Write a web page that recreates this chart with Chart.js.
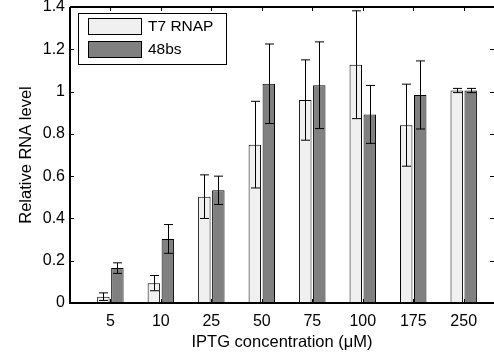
<!DOCTYPE html>
<html>
<head>
<meta charset="utf-8">
<script src="https://cdn.jsdelivr.net/npm/chart.js@4/dist/chart.umd.min.js"></script>
<style>
  html, body { margin: 0; padding: 0; background: #fff; }
</style>
</head>
<body>
<canvas id="myChart" width="494" height="353"></canvas>
<script>
'use strict';

//data
var concentrations = ['5', '10', '25', '50', '75', '100', '175', '250'];
var t7Values = [0.03, 0.094, 0.503, 0.749, 0.96, 1.127, 0.841, 1.005];
var t7Errors = [0.018, 0.036, 0.103, 0.205, 0.19, 0.255, 0.194, 0.01];
var bsValues = [0.165, 0.303, 0.533, 1.037, 1.03, 0.892, 0.984, 1.005];
var bsErrors = [0.025, 0.068, 0.067, 0.188, 0.205, 0.137, 0.161, 0.01];
var yTicks = [0, 0.2, 0.4, 0.6, 0.8, 1, 1.2, 1.4];
var seriesNames = ['T7 RNAP', '48bs'];

//style
var fontFamily = '"Liberation Sans", Arial, sans-serif';
var fillColors = ['#f0f0f0', '#808080'];
var errors = [t7Errors, bsErrors];
var xPositions = concentrations.map(function (c, i) { return i + 1; });

function toPoints(values) {
  return values.map(function (v, i) {
    return { x: xPositions[i], y: v };
  });
}

//error bars, axis box, inward ticks and legend (matlab look)
var matlabPlugin = {
  id: 'matlabLook',
  afterDatasetsDraw: function (chart) {
    var ctx = chart.ctx;
    var yScale = chart.scales.y;
    ctx.save();
    ctx.strokeStyle = '#000';
    ctx.lineWidth = 1;
    chart.data.datasets.forEach(function (ds, d) {
      var meta = chart.getDatasetMeta(d);
      meta.data.forEach(function (bar, i) {
        var x = Math.round(bar.x) + 0.5;
        var top = yScale.getPixelForValue(ds.data[i].y + errors[d][i]);
        var bottom = yScale.getPixelForValue(ds.data[i].y - errors[d][i]);
        ctx.beginPath();
        ctx.moveTo(x, top);
        ctx.lineTo(x, bottom);
        ctx.moveTo(x - 4.5, top);
        ctx.lineTo(x + 4.5, top);
        ctx.moveTo(x - 4.5, bottom);
        ctx.lineTo(x + 4.5, bottom);
        ctx.stroke();
      });
    });
    ctx.restore();
  },
  afterDraw: function (chart) {
    var ctx = chart.ctx;
    var area = chart.chartArea;
    var xScale = chart.scales.x;
    var yScale = chart.scales.y;
    ctx.save();
    ctx.strokeStyle = '#000';
    ctx.lineWidth = 1;
    ctx.beginPath();
    yTicks.forEach(function (v) {
      var y = Math.round(yScale.getPixelForValue(v)) + 0.5;
      ctx.moveTo(area.left, y);
      ctx.lineTo(area.left + 4, y);
      ctx.moveTo(area.right, y);
      ctx.lineTo(area.right - 4, y);
    });
    xPositions.forEach(function (v) {
      var x = Math.round(xScale.getPixelForValue(v)) + 0.5;
      ctx.moveTo(x, area.top);
      ctx.lineTo(x, area.top + 4);
      ctx.moveTo(x, area.bottom);
      ctx.lineTo(x, area.bottom - 4);
    });
    ctx.stroke();

    // box lines
    ctx.lineWidth = 2;
    ctx.beginPath();
    ctx.moveTo(area.left, area.top);
    ctx.lineTo(area.right, area.top);
    ctx.moveTo(area.left, area.top);
    ctx.lineTo(area.left, area.bottom);
    ctx.lineTo(area.right, area.bottom);
    ctx.stroke();

    // legend
    var lx = area.left + 8;
    var ly = area.top + 6;
    ctx.lineWidth = 1;
    ctx.fillStyle = '#fff';
    ctx.fillRect(lx + 0.5, ly + 0.5, 148, 51);
    ctx.strokeRect(lx + 0.5, ly + 0.5, 148, 51);
    ctx.font = '15.5px ' + fontFamily;
    ctx.textBaseline = 'middle';
    seriesNames.forEach(function (name, i) {
      var ry = ly + 5 + i * 23;
      ctx.fillStyle = fillColors[i];
      ctx.fillRect(lx + 10.5, ry + 0.5, 53, 16);
      ctx.strokeStyle = '#000';
      ctx.strokeRect(lx + 10.5, ry + 0.5, 53, 16);
      ctx.fillStyle = '#000';
      ctx.fillText(name, lx + 70, ry + 9);
    });
    ctx.restore();
  }
};

var ctx = document.getElementById('myChart').getContext('2d');
var chart = new Chart(ctx, {
  type: 'bar',
  data: {
    datasets: [{
      label: seriesNames[0],
      data: toPoints(t7Values),
      backgroundColor: fillColors[0],
      borderColor: '#000',
      borderWidth: 1
    }, {
      label: seriesNames[1],
      data: toPoints(bsValues),
      backgroundColor: fillColors[1],
      borderColor: '#000',
      borderWidth: 1
    }]
  },
  options: {
    responsive: false,
    animation: false,
    devicePixelRatio: 1,
    categoryPercentage: 0.554,
    barPercentage: 0.89,
    layout: { padding: { top: 0, right: 0, bottom: 1, left: 0 } },
    plugins: {
      legend: { display: false },
      tooltip: { enabled: false }
    },
    scales: {
      x: {
        type: 'linear',
        min: 0.2,
        max: 8.6,
        offset: false,
        grid: { display: false, drawTicks: false },
        border: { display: false },
        afterBuildTicks: function (scale) {
          scale.ticks = xPositions.map(function (v) { return { value: v }; });
        },
        afterFit: function (scale) {
          scale.height = 49;
        },
        ticks: {
          autoSkip: false,
          maxRotation: 0,
          padding: 9,
          color: '#000',
          font: { family: fontFamily, size: 16 },
          callback: function (value) { return concentrations[value - 1]; }
        },
        title: {
          display: true,
          text: 'IPTG concentration (\u03bcM)',
          color: '#000',
          font: { family: fontFamily, size: 16.5 },
          padding: { top: 3, bottom: 0 }
        }
      },
      y: {
        min: 0,
        max: 1.4,
        grid: { display: false, drawTicks: false },
        border: { display: false },
        afterBuildTicks: function (scale) {
          scale.ticks = yTicks.map(function (v) { return { value: v }; });
        },
        afterFit: function (scale) {
          scale.width = 70;
          scale.paddingTop = 7;
        },
        ticks: {
          padding: 5,
          color: '#000',
          font: { family: fontFamily, size: 16 },
          callback: function (value) { return String(value); }
        },
        title: {
          display: true,
          text: 'Relative RNA level',
          color: '#000',
          font: { family: fontFamily, size: 16.5 },
          padding: { top: 17, bottom: 0 }
        }
      }
    }
  },
  plugins: [matlabPlugin]
});
</script>
</body>
</html>
